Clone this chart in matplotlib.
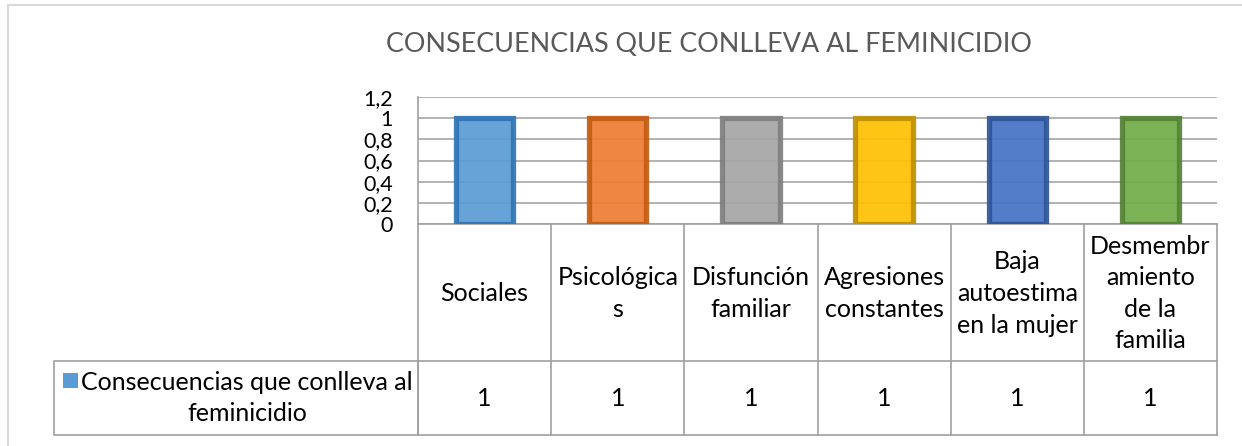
import matplotlib
matplotlib.use("Agg")
import matplotlib.pyplot as plt
from matplotlib.patches import Rectangle
from matplotlib.lines import Line2D

# ---- data ----
title = "CONSECUENCIAS QUE CONLLEVA AL FEMINICIDIO"
categories = ["Sociales", "Psicológica\ns", "Disfunción\nfamiliar",
              "Agresiones\nconstantes", "Baja\nautoestima\nen la mujer",
              "Desmembr\namiento\nde la\nfamilia"]
values = [1, 1, 1, 1, 1, 1]
series_name = "Consecuencias que conlleva al\nfeminicidio"
yticks = [0, 0.2, 0.4, 0.6, 0.8, 1.0, 1.2]
ytick_labels = ["0", "0,2", "0,4", "0,6", "0,8", "1", "1,2"]
value_labels = ["1", "1", "1", "1", "1", "1"]

fills = ["#5B9BD5", "#ED7D31", "#A5A5A5", "#FFC000", "#4472C4", "#70AD47"]
edges = ["#2E75B6", "#C55A11", "#7F7F7F", "#BF9000", "#2F5597", "#548235"]

FONT = "Lato"
plt.rcParams['font.family'] = [FONT, 'DejaVu Sans']

W, H = 1242, 446
fig = plt.figure(figsize=(W / 100, H / 100), dpi=100)

def fx(px):
    return px / W

def fy(py):
    return 1 - py / H

GRID = "#A6A6A6"
TABLE = "#A0A0A0"
FS = 18

# outer chart border (cropped on right/bottom)
fig.patches.append(Rectangle((fx(8), fy(460)), fx(1260) - fx(8), fy(5) - fy(460),
                             transform=fig.transFigure, fill=False,
                             edgecolor="#D9D9D9", linewidth=1.5))

# title
fig.text(fx(709), fy(45), title, ha="center", va="center",
         fontsize=19.4, color="#595959")

# main axes
L, R, T, B = 418, 1217, 97, 224
ax = fig.add_axes([fx(L), fy(B), fx(R) - fx(L), fy(T) - fy(B)])
x = list(range(len(categories)))
ax.bar(x, values, width=0.43, color=fills, edgecolor=edges, linewidth=3.8,
       alpha=0.92, zorder=3)
ax.set_xlim(-0.5, len(categories) - 0.5)
ax.set_ylim(0, 1.2)
ax.set_yticks(yticks)
ax.set_yticklabels(ytick_labels, fontsize=15.5)
ax.tick_params(axis="y", length=0, pad=18)
ax.tick_params(axis="x", length=0, labelbottom=False)
ax.grid(axis="y", color=GRID, linewidth=1.2, zorder=0)
ax.set_axisbelow(True)
for s in ["top", "right"]:
    ax.spines[s].set_visible(False)
ax.spines["left"].set_color(TABLE)
ax.spines["left"].set_linewidth(1.2)
ax.spines["bottom"].set_color(TABLE)
ax.spines["bottom"].set_linewidth(1.2)

# data table axes (same x scale)
TB = 435
tab = fig.add_axes([fx(L), fy(TB), fx(R) - fx(L), fy(B) - fy(TB)])
tab.set_xlim(-0.5, len(categories) - 0.5)
tab.set_ylim(TB - B, 0)
tab.axis("off")
row1 = 361 - B
for i in range(len(categories) + 1):
    tab.add_line(Line2D([i - 0.5, i - 0.5], [0, TB - B], color=TABLE, lw=1.2,
                        clip_on=False))
tab.add_line(Line2D([-0.5, len(categories) - 0.5], [row1, row1], color=TABLE,
                    lw=1.2, clip_on=False))
tab.add_line(Line2D([-0.5, len(categories) - 0.5], [TB - B, TB - B], color=TABLE,
                    lw=1.2, clip_on=False))
for i, (c, v) in enumerate(zip(categories, value_labels)):
    tab.text(i, row1 / 2 + 1, c, ha="center", va="center", fontsize=FS,
             linespacing=1.45, multialignment="center")
    tab.text(i, (row1 + TB - B) / 2, v, ha="center", va="center", fontsize=FS)

# legend cell
fig.patches.append(Rectangle((fx(54), fy(435)), fx(418) - fx(54), fy(361) - fy(435),
                             transform=fig.transFigure, fill=False,
                             edgecolor=TABLE, linewidth=1.2))
fig.patches.append(Rectangle((fx(63), fy(388)), fx(78) - fx(63), fy(373) - fy(388),
                             transform=fig.transFigure, facecolor=fills[0],
                             edgecolor="none"))
fig.text(fx(247), fy(398), series_name, ha="center", va="center",
         fontsize=FS, linespacing=1.45, multialignment="center")

fig.savefig("out.png", dpi=100)
